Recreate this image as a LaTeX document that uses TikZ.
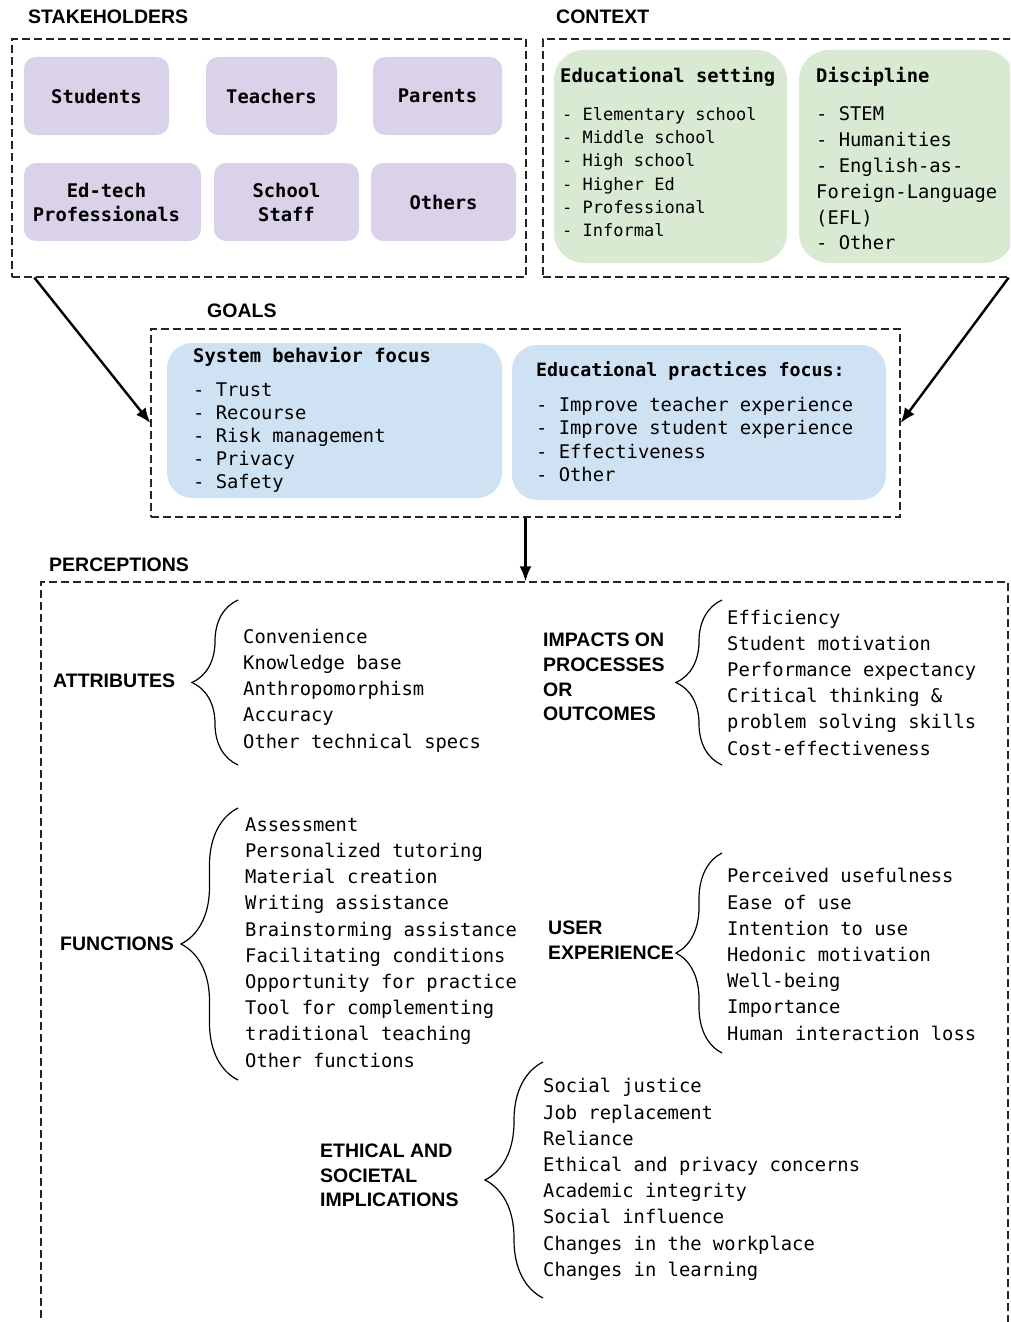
\documentclass[tikz,border=0pt]{standalone}
\usepackage{fontspec}
\setmainfont{DejaVu Sans Mono}
\setmonofont{DejaVu Sans Mono}
\setsansfont{Liberation Sans}
\usetikzlibrary{arrows.meta,decorations.pathreplacing}

\definecolor{stakefill}{HTML}{D9D2E9}
\definecolor{ctxfill}{HTML}{D9EAD3}
\definecolor{goalfill}{HTML}{CFE2F3}

\tikzset{
  dashbox/.style={draw=black!85, dash pattern=on 8pt off 4pt, line width=1.3pt, inner sep=0pt},
  stakeholder/.style={fill=stakefill, rounded corners=12pt, minimum height=78pt, inner sep=0pt,
    align=center, font=\ttfamily\bfseries\fontsize{18.8}{24}\selectfont},
  ctxpanel/.style={fill=ctxfill, rounded corners=30pt, minimum height=213pt, inner sep=0pt},
  goalpanel/.style={fill=goalfill, rounded corners=25pt, minimum height=155pt, inner sep=0pt},
  head/.style={anchor=west, inner sep=0pt, align=left, font=\sffamily\bfseries\fontsize{19.5}{24.7}\selectfont},
  paneltitle/.style={anchor=west, inner sep=0pt, font=\ttfamily\bfseries\fontsize{18.8}{23}\selectfont},
  panellist/.style={anchor=west, inner sep=0pt, align=left, font=\ttfamily\fontsize{18.8}{23.2}\selectfont},
  itemlist/.style={anchor=west, inner sep=0pt, align=left, font=\ttfamily\fontsize{18.8}{26.2}\selectfont},
  flow/.style={-{Latex[length=15pt,width=12pt]}, line width=2.4pt},
  curly/.style={decorate, decoration={brace, amplitude=#1}, line width=1.2pt},
}

\begin{document}
\begin{tikzpicture}[x=1pt,y=-1pt]
\clip (0,0) rectangle (1010,1322);
%% stakeholders
\node[head] (stakelabel) at (28,17) {STAKEHOLDERS};
\node[dashbox, minimum width=514pt, minimum height=238pt] (stakebox) at (269,158) {};
\node[stakeholder, minimum width=145pt] (students) at (96.5,96) {Students};
\node[stakeholder, minimum width=131pt] (teachers) at (271.5,96) {Teachers};
\node[stakeholder, minimum width=129pt] (parents) at (437.5,96) {Parents};
\node[stakeholder, minimum width=177pt] (edtech) at (112.5,202) {Ed-tech\hspace*{12pt}\\Professionals\hspace*{12pt}};
\node[stakeholder, minimum width=145pt] (staff) at (286.5,202) {School\\Staff};
\node[stakeholder, minimum width=145pt] (others) at (443.5,202) {Others};
%% context
\node[head] (ctxlabel) at (556,17) {CONTEXT};
\node[dashbox, minimum width=487pt, minimum height=238pt] (ctxbox) at (786.5,158) {};
\node[ctxpanel, minimum width=233pt] (setting) at (670.5,156.5) {};
\node[paneltitle] (settingtitle) at (560,77) {Educational setting};
\node[panellist, font=\ttfamily\fontsize{17}{23.3}\selectfont] (settinglist) at (562,172)
  {- Elementary school\\- Middle school\\- High school\\- Higher Ed\\- Professional\\- Informal};
\node[ctxpanel, minimum width=215pt] (discipline) at (906.5,156.5) {};
\node[paneltitle] (disctitle) at (816,77) {Discipline};
\node[panellist, font=\ttfamily\fontsize{18.8}{25.8}\selectfont] (disclist) at (816,178.5)
  {- STEM\\- Humanities\\- English-as-\\Foreign-Language\\(EFL)\\- Other};
%% goals
\node[head] (goallabel) at (207,311) {GOALS};
\node[dashbox, minimum width=749pt, minimum height=188pt] (goalbox) at (525.5,423) {};
\node[goalpanel, minimum width=335pt] (sysfocus) at (334.5,420.5) {};
\node[paneltitle] (systitle) at (193,357) {System behavior focus};
\node[panellist] (syslist) at (193,437.5)
  {- Trust\\- Recourse\\- Risk management\\- Privacy\\- Safety};
\node[goalpanel, minimum width=374pt] (edufocus) at (699,422.5) {};
\node[paneltitle, font=\ttfamily\bfseries\fontsize{18.3}{23}\selectfont] (edutitle) at (536,371) {Educational practices focus:};
\node[panellist] (edulist) at (536,439.5)
  {- Improve teacher experience\\- Improve student experience\\- Effectiveness\\- Other};
%% arrows into goals and perceptions
\draw[flow] ([xshift=23pt]stakebox.south west) -- (goalbox.west);
\draw[flow] ([xshift=-22pt]ctxbox.south east) -- (goalbox.east);
%% perceptions
\node[head] (perclabel) at (49,565) {PERCEPTIONS};
\node[dashbox, minimum width=967pt, minimum height=758pt] (percbox) at (524.5,961) {};
\draw[flow] (goalbox.south) -- (goalbox.south |- percbox.north);

\node[head] (attrlabel) at (53,681) {ATTRIBUTES};
\draw[curly=46pt] (238,765) -- (238,600);
\node[itemlist] (attrlist) at (243,690.5)
  {Convenience\\Knowledge base\\Anthropomorphism\\Accuracy\\Other technical specs};

\node[head] (impactlabel) at (543,677) {IMPACTS ON\\PROCESSES\\OR\\OUTCOMES};
\draw[curly=46pt] (722,765) -- (722,600);
\node[itemlist] (impactlist) at (727,682.5)
  {Efficiency\\Student motivation\\Performance expectancy\\Critical thinking \&\\problem solving skills\\Cost-effectiveness};

\node[head] (funclabel) at (60,944) {FUNCTIONS};
\draw[curly=57pt] (238,1080) -- (238,808);
\node[itemlist] (funclist) at (245,942.5)
  {Assessment\\Personalized tutoring\\Material creation\\Writing assistance\\Brainstorming assistance\\Facilitating conditions\\Opportunity for practice\\Tool for complementing\\traditional teaching\\Other functions};

\node[head] (uxlabel) at (548,940.5) {USER\\EXPERIENCE};
\draw[curly=46pt] (722,1053) -- (722,853);
\node[itemlist] (uxlist) at (727,954.5)
  {Perceived usefulness\\Ease of use\\Intention to use\\Hedonic motivation\\Well-being\\Importance\\Human interaction loss};

\node[head] (ethlabel) at (320,1175.5) {ETHICAL AND\\SOCIETAL\\IMPLICATIONS};
\draw[curly=58pt] (543,1298) -- (543,1062);
\node[itemlist] (ethlist) at (543,1179.5)
  {Social justice\\Job replacement\\Reliance\\Ethical and privacy concerns\\Academic integrity\\Social influence\\Changes in the workplace\\Changes in learning};
\end{tikzpicture}
\end{document}
